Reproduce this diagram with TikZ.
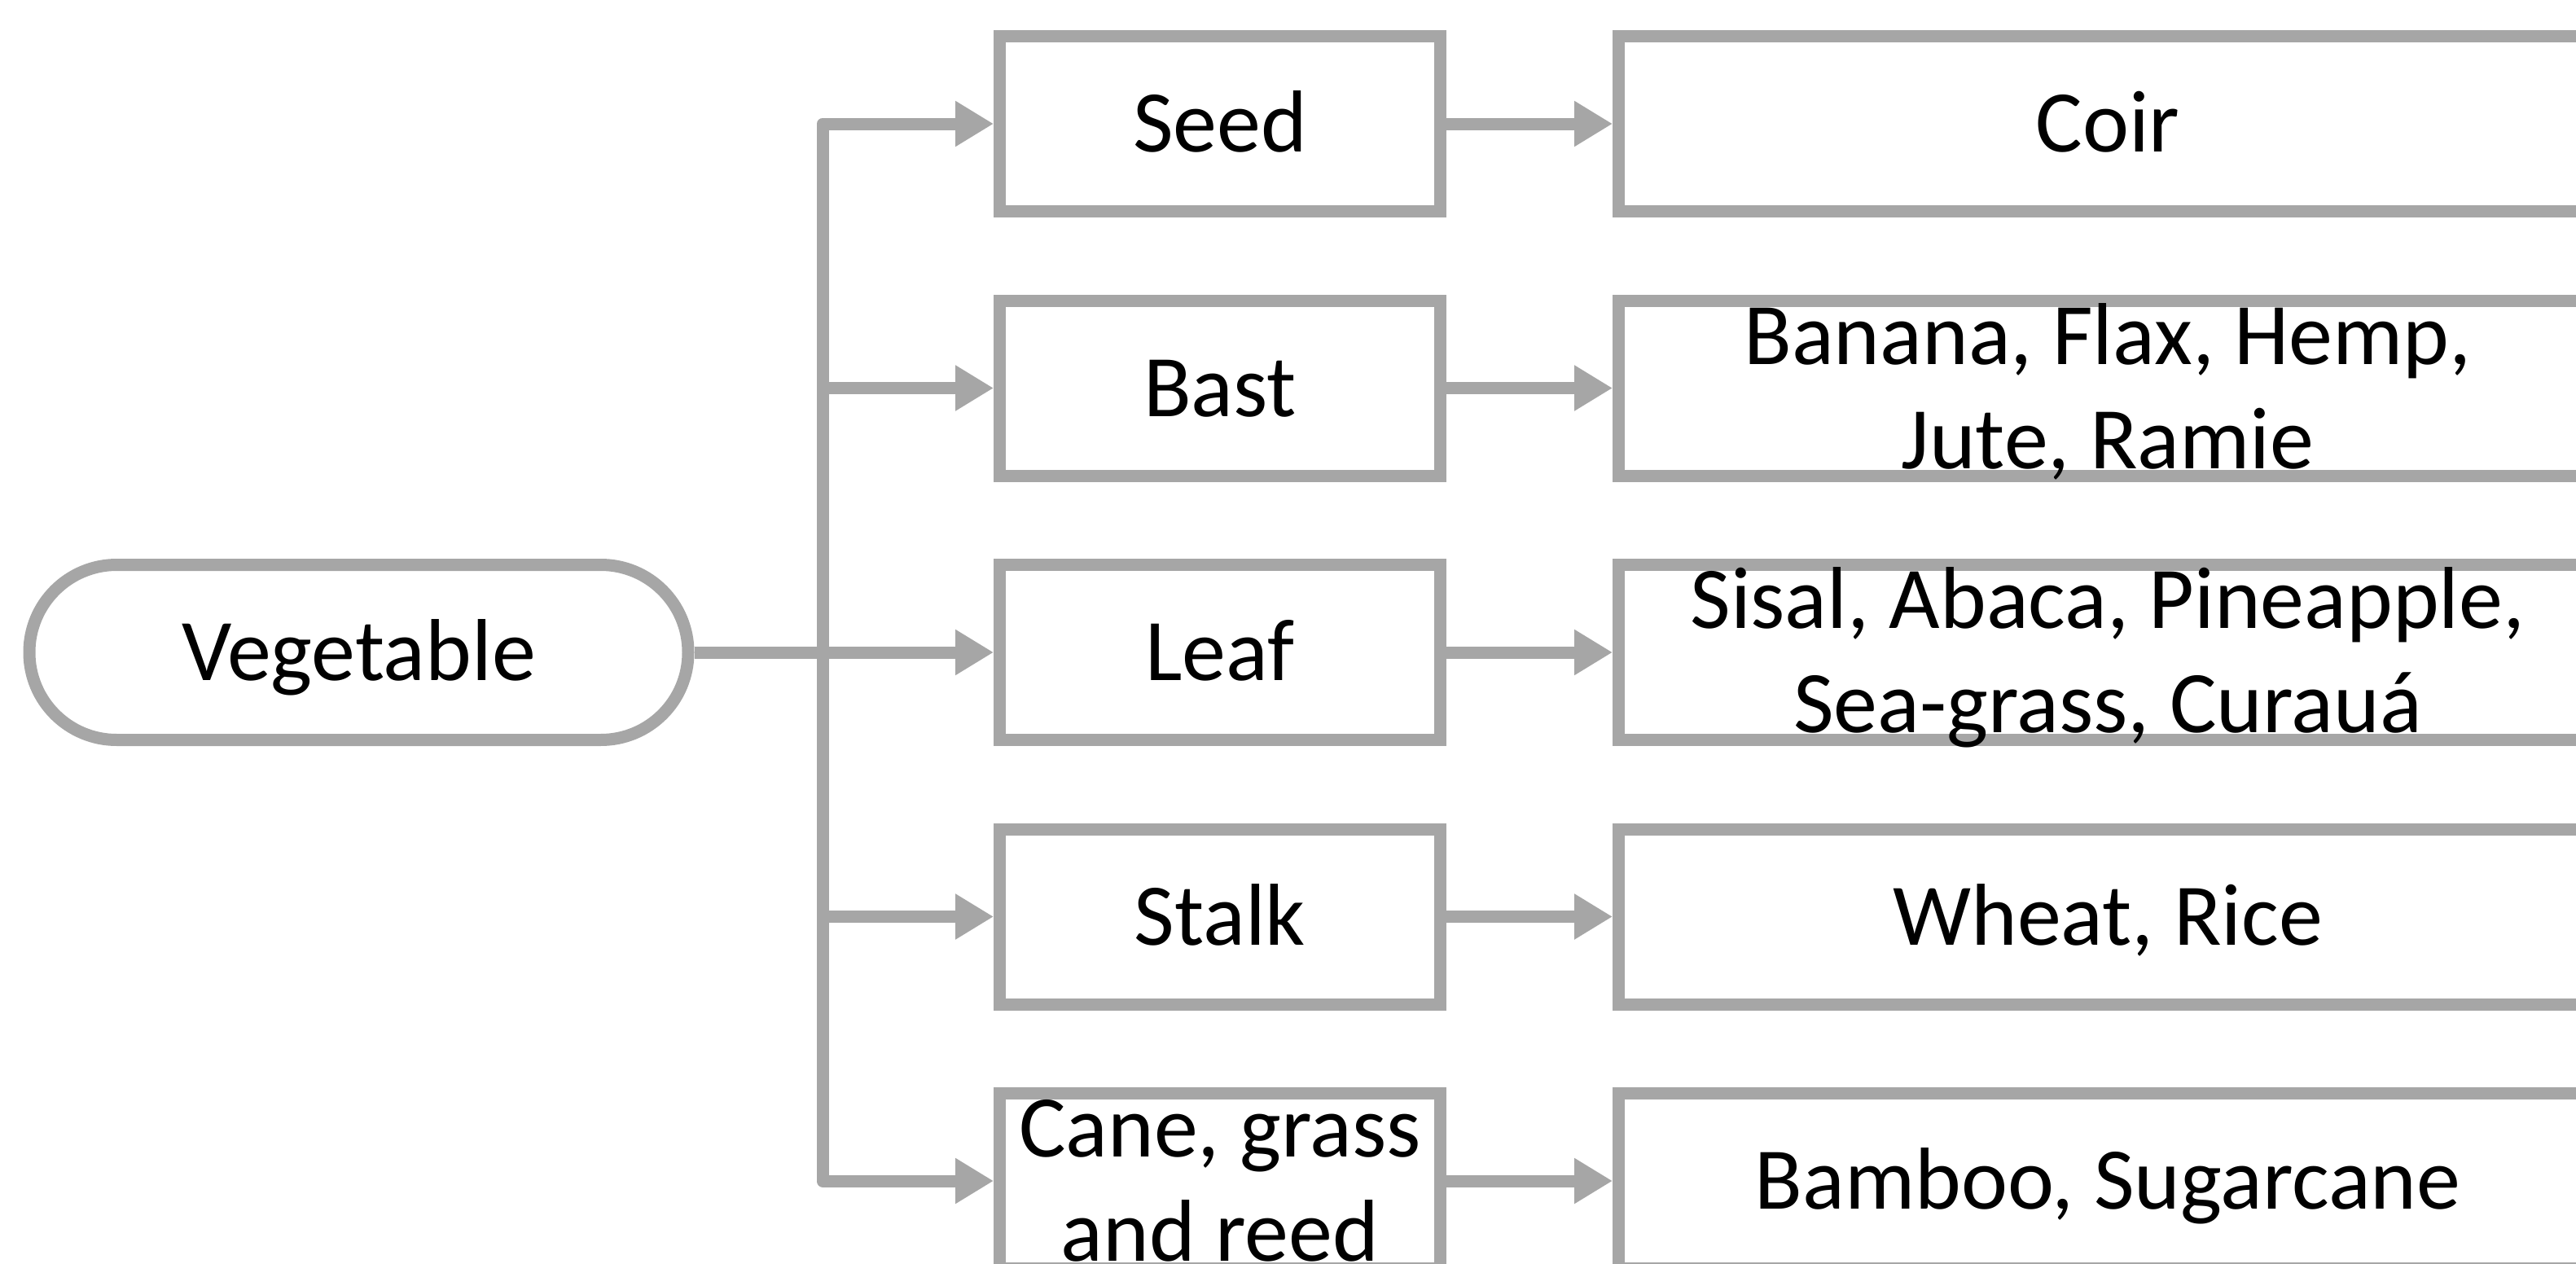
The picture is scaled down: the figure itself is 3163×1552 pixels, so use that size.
\documentclass[tikz,border=0pt]{standalone}
\usepackage{fontspec}
\setmainfont{Carlito}
\usetikzlibrary{arrows.meta}
\definecolor{linegray}{HTML}{A6A6A6}
\newcommand{\mystrut}{\rule[-0.256em]{0pt}{1.156em}}
\newcommand{\twolines}[2]{\vbox to 0pt{\vss\halign{\hfil##\hfil\cr\mystrut #1\cr\mystrut #2\cr}\vss}}
\begin{document}
\begin{tikzpicture}[x=0.25pt,y=-0.25pt,
  base/.style={draw=linegray, line width=3.75pt, fill=white, inner sep=0pt,
    text=black, font=\fontsize{27}{32}\selectfont, minimum height=53.75pt},
  box/.style={base, minimum width=135.25pt},
  wide/.style={base, minimum width=300.25pt},
  pill/.style={base, minimum width=202.25pt, rounded corners=26.8pt},
  conn/.style={draw=linegray, line width=3.75pt, line join=round},
  arr/.style={conn, -{Triangle[length=11.75pt,width=13.25pt]}}]
\useasboundingbox (0,0) rectangle (3163,1552);
\clip (0,0) rectangle (3163,1552);

\node[pill] (veg) at (440.5,801) {\mystrut Vegetable};

\node[box] (seed)  at (1498,152)    {\mystrut Seed};
\node[box] (bast)  at (1498,476.5)  {\mystrut Bast};
\node[box] (leaf)  at (1498,801)    {\mystrut Leaf};
\node[box] (stalk) at (1498,1125.5) {\mystrut Stalk};
\node[box] (cane)  at (1498,1450)   {\twolines{Cane, grass}{and reed}};

\node[wide] (coir)   at (2588,152)    {\mystrut Coir};
\node[wide] (banana) at (2588,476.5)  {\twolines{Banana, Flax, Hemp,}{Jute, Ramie}};
\node[wide] (sisal)  at (2588,801)    {\twolines{Sisal, Abaca, Pineapple,}{Sea-grass, Curauá}};
\node[wide] (wheat)  at (2588,1125.5) {\mystrut Wheat, Rice};
\node[wide] (bamboo) at (2588,1450)   {\mystrut Bamboo, Sugarcane};

\coordinate (j) at (1010,801);
\draw[conn] (veg.east) -- (j);
\foreach \n in {seed,bast,leaf,stalk,cane}
  \draw[arr] (j) |- (\n.west);

\draw[arr] (seed.east)  -- (coir.west);
\draw[arr] (bast.east)  -- (banana.west);
\draw[arr] (leaf.east)  -- (sisal.west);
\draw[arr] (stalk.east) -- (wheat.west);
\draw[arr] (cane.east)  -- (bamboo.west);
\end{tikzpicture}
\end{document}
